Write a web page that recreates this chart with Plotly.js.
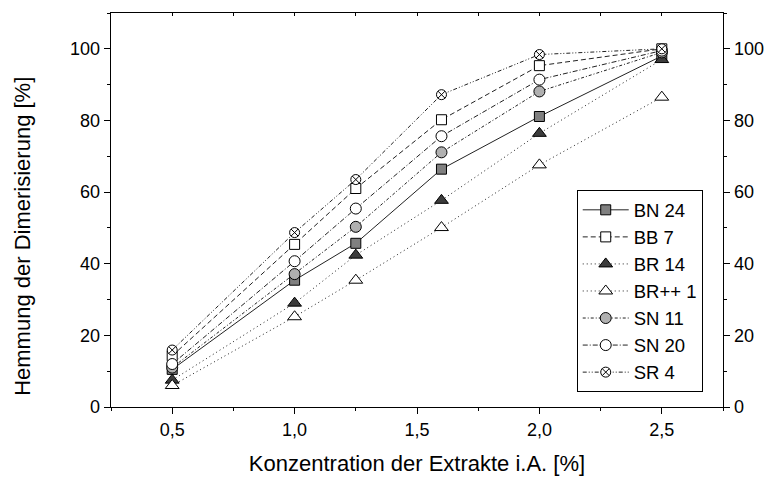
<!DOCTYPE html>
<html>
<head>
<meta charset="utf-8">
<script src="https://cdn.plot.ly/plotly-3.0.1.min.js"></script>
<style>
html,body{margin:0;padding:0;background:#fff;}
#chart{width:769px;height:480px;}
</style>
</head>
<body>
<div id="chart"></div>
<script>
// Data
const konzentration = [0.5, 1.0, 1.25, 1.6, 2.0, 2.5];
const seriesNames = ["BN 24", "BB 7", "BR 14", "BR++ 1", "SN 11", "SN 20", "SR 4"];
const bn24  = [10.5, 35.4, 45.7, 66.4, 81.1, 98.0];
const bb7   = [14.3, 45.4, 61.0, 80.2, 95.3, 100.0];
const br14  = [7.5, 29.0, 42.4, 57.7, 76.4, 97.0];
const brpp1 = [6.0, 25.2, 35.4, 50.1, 67.6, 86.5];
const sn11  = [11.0, 37.1, 50.3, 71.1, 88.1, 99.0];
const sn20  = [12.0, 40.7, 55.4, 75.6, 91.4, 99.5];
const sr4   = [15.9, 48.7, 63.5, 87.2, 98.4, 100.0];
const seriesValues = [bn24, bb7, br14, brpp1, sn11, sn20, sr4];

const xTitle = "Konzentration der Extrakte i.A. [%]";
const yTitle = "Hemmung der Dimerisierung [%]";

// styles
const styles = [
  {symbol:"square",      fill:"#808080", size:10, dash:"solid"},
  {symbol:"square",      fill:"#ffffff", size:10, dash:"5px,3px"},
  {symbol:"triangle-up", fill:"#3c3c3c", size:12, dash:"1px,3px"},
  {symbol:"triangle-up", fill:"#ffffff", size:12, dash:"1px,3px"},
  {symbol:"circle",      fill:"#b0b0b0", size:11, dash:"3px,2px,1px,2px"},
  {symbol:"circle",      fill:"#ffffff", size:11, dash:"5px,2px,1px,2px"},
  {symbol:"circle-x",    fill:"#ffffff", size:10, dash:"4px,2px,1px,2px,1px,2px"}
];

const FONT = "Arial, 'Liberation Sans', sans-serif";

const traces = seriesNames.map((name, i) => ({
  type: "scatter",
  mode: "lines+markers",
  name: name,
  x: konzentration,
  y: seriesValues[i],
  line: {color: "#222", width: 1, dash: styles[i].dash},
  marker: {symbol: styles[i].symbol, size: styles[i].size, color: styles[i].fill,
           line: {color: "#000", width: 1}},
  cliponaxis: false
}));

// empty helper trace so the mirrored axes (top/right) are drawn
traces.push({type:"scatter", mode:"markers", x:[], y:[], xaxis:"x2", yaxis:"y2",
             showlegend:false, hoverinfo:"skip"});

const layout = {
  width: 769, height: 480,
  margin: {l: 110.5, r: 45.7, t: 12.5, b: 73},
  paper_bgcolor: "#fff", plot_bgcolor: "#fff",
  separators: ", ",
  font: {family: FONT, size: 18, color: "#000"},
  showlegend: true,
  legend: {
    x: 0.761, y: 0.55, xanchor: "left", yanchor: "top",
    bordercolor: "#000", borderwidth: 1, bgcolor: "#fff",
    font: {family: FONT, size: 18.5, color: "#000"},
    itemwidth: 46, tracegroupgap: 0
  },
  annotations: [{
    text: yTitle, xref: "paper", yref: "paper",
    x: -0.1444, y: 0.4335, xanchor: "center", yanchor: "middle",
    textangle: -90, showarrow: false,
    font: {family: FONT, size: 22, color: "#000"}
  }],
  xaxis: {
    range: [0.25, 2.75], tick0: 0.5, dtick: 0.5, tickformat: ".1f",
    ticks: "outside", ticklen: 6, tickwidth: 1, tickcolor: "#000",
    minor: {dtick: 0.25, tick0: 0.25, ticks: "outside", ticklen: 3, tickcolor: "#000"},
    showline: true, linecolor: "#000", linewidth: 1.3,
    showgrid: false, zeroline: false,
    tickfont: {family: FONT, size: 18},
    title: {text: xTitle, font: {family: FONT, size: 22}, standoff: 16}
  },
  xaxis2: {
    overlaying: "x", side: "top", anchor: "y", matches: "x",
    range: [0.25, 2.75], tick0: 0.25, dtick: 0.25,
    ticks: "inside", ticklen: 3, tickcolor: "#000",
    showticklabels: false, showline: true, linecolor: "#000", linewidth: 1.3,
    showgrid: false, zeroline: false
  },
  yaxis: {
    range: [0, 110], tick0: 0, dtick: 20,
    ticks: "outside", ticklen: 6, tickwidth: 1, tickcolor: "#000",
    minor: {dtick: 10, ticks: "outside", ticklen: 3, tickcolor: "#000"},
    showline: true, linecolor: "#000", linewidth: 1.3,
    showgrid: false, zeroline: false,
    tickfont: {family: FONT, size: 18}
  },
  yaxis2: {
    overlaying: "y", side: "right", anchor: "x",
    range: [0, 110], tick0: 0, dtick: 20,
    ticks: "outside", ticklen: 6, tickwidth: 1, tickcolor: "#000",
    minor: {dtick: 10, ticks: "outside", ticklen: 3, tickcolor: "#000"},
    showline: true, linecolor: "#000", linewidth: 1.3,
    showgrid: false, zeroline: false,
    tickfont: {family: FONT, size: 18}
  }
};

Plotly.newPlot("chart", traces, layout, {displayModeBar: false, staticPlot: true});
</script>
</body>
</html>
